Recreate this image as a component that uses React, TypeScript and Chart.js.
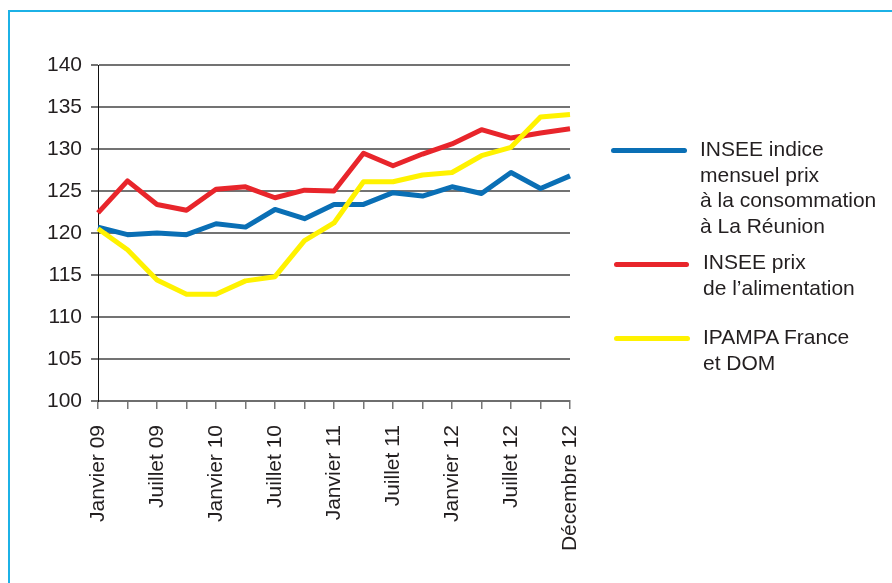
import React, { useEffect, useRef } from "react";
import { Chart, registerables } from "chart.js";

Chart.register(...registerables);

const categories = [
  "Janvier 09", "", "Juillet 09", "", "Janvier 10", "", "Juillet 10", "",
  "Janvier 11", "", "Juillet 11", "", "Janvier 12", "", "Juillet 12", "", "Décembre 12",
];

const inseeConso = [120.7, 119.8, 120.0, 119.8, 121.1, 120.7, 122.8, 121.7, 123.4, 123.4, 124.8, 124.4, 125.5, 124.7, 127.2, 125.3, 126.8];
const inseeAlim = [122.4, 126.2, 123.4, 122.7, 125.2, 125.5, 124.2, 125.1, 125.0, 129.5, 128.0, 129.4, 130.6, 132.3, 131.3, 131.9, 132.4];
const ipampa = [120.5, 118.0, 114.4, 112.7, 112.7, 114.3, 114.8, 119.1, 121.2, 126.1, 126.1, 126.9, 127.2, 129.2, 130.2, 133.8, 134.1];

const seriesLabels = [
  ["INSEE indice", "mensuel prix", "à la consommation", "à La Réunion"],
  ["INSEE prix", "de l’alimentation"],
  ["IPAMPA France", "et DOM"],
];
const seriesColors = ["#0a6fb5", "#e8252b", "#fff200"];

const yMin = 100;
const yMax = 140;
const yStep = 5;

const FONT = "'Liberation Sans', Arial, Helvetica, sans-serif";

export default function App() {
  const ref = useRef<HTMLCanvasElement | null>(null);

  useEffect(() => {
    document.body.style.margin = "0";
    const canvas = ref.current;
    if (!canvas) return;
    const values = [inseeConso, inseeAlim, ipampa];
    const chart = new Chart(canvas, {
      type: "line",
      data: {
        labels: categories,
        datasets: values.map((v, i) => ({
          label: seriesLabels[i].join(" "),
          data: v,
          borderColor: seriesColors[i],
          backgroundColor: seriesColors[i],
          borderWidth: 5,
          pointRadius: 0,
          tension: 0,
          fill: false,
          borderJoinStyle: "round" as const,
          order: 2 - i,
        })),
      },
      options: {
        animation: false,
        responsive: false,
        maintainAspectRatio: false,
        layout: { padding: { top: 65, right: 322, bottom: 0, left: 0 } },
        plugins: {
          legend: { display: false },
          tooltip: { enabled: false },
          title: { display: false },
        },
        scales: {
          x: {
            type: "category",
            offset: false,
            afterFit: (s: any) => {
              s.height = 182;
            },
            grid: {
              drawOnChartArea: false,
              drawTicks: true,
              tickLength: 8,
              color: "#777777",
              lineWidth: 1.5,
            },
            border: { display: true, color: "#6e6e6e", width: 2 },
            ticks: {
              autoSkip: false,
              maxRotation: 90,
              minRotation: 90,
              padding: 16,
              color: "#231f20",
              font: { family: FONT, size: 21 },
            },
          },
          y: {
            min: yMin,
            max: yMax,
            afterFit: (s: any) => {
              s.width = 98;
            },
            grid: {
              drawOnChartArea: true,
              drawTicks: true,
              tickLength: 7,
              color: "#737373",
              lineWidth: 2,
            },
            border: { display: true, color: "#111111", width: 1 },
            ticks: {
              stepSize: yStep,
              padding: 9,
              color: "#231f20",
              font: { family: FONT, size: 21 },
            },
          },
        },
      },
    });
    return () => chart.destroy();
  }, []);

  const legendTops = [136, 249, 324];
  const lineY = [150, 264, 338];
  const lineX = [[611, 687], [614, 689], [614, 690]];
  const textX = [700, 703, 703];

  return (
    <div style={{ position: "fixed", left: 0, top: 0, width: 892, height: 583, background: "#ffffff", overflow: "hidden" }}>
      <div style={{ position: "absolute", left: 8, top: 10, width: 900, height: 600, borderTop: "2px solid #1cb1e6", borderLeft: "2px solid #1cb1e6" }} />
      <canvas ref={ref} width={892} height={583} style={{ position: "absolute", left: 0, top: 0, width: 892, height: 583 }} />
      {seriesLabels.map((lines, i) => (
        <React.Fragment key={i}>
          <div
            style={{
              position: "absolute",
              left: lineX[i][0],
              top: lineY[i] - 2.5,
              width: lineX[i][1] - lineX[i][0],
              height: 5,
              borderRadius: 3,
              background: seriesColors[i],
            }}
          />
          <div
            style={{
              position: "absolute",
              left: textX[i],
              top: legendTops[i],
              fontFamily: FONT,
              fontSize: 21,
              lineHeight: "25.5px",
              color: "#231f20",
              whiteSpace: "nowrap",
            }}
          >
            {lines.map((l, j) => (
              <div key={j}>{l}</div>
            ))}
          </div>
        </React.Fragment>
      ))}
    </div>
  );
}
